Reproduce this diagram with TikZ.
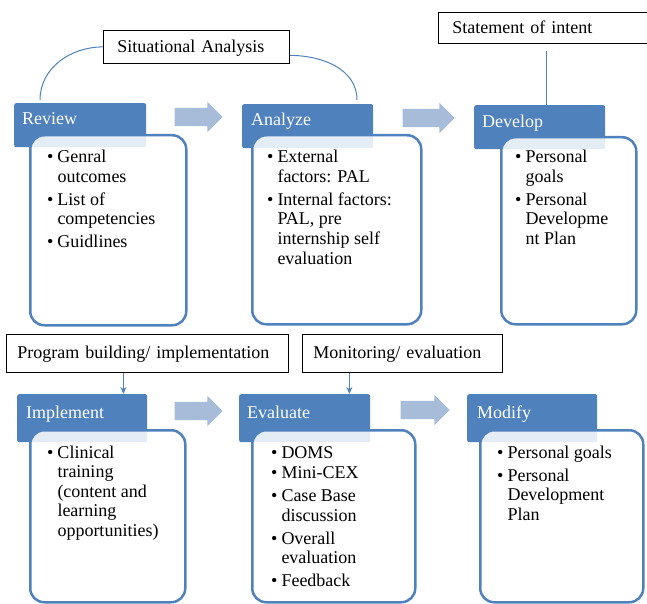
\documentclass[tikz,border=0pt]{standalone}
\usepackage{fontspec}
\setmainfont{Liberation Serif}
\usepackage{tikz}
\usetikzlibrary{shapes.arrows, arrows.meta}
\definecolor{hdrblue}{RGB}{79,129,189}
\definecolor{arrowblue}{RGB}{167,188,217}
\newcommand{\pts}[1]{\begin{tabular}[t]{@{}l@{\hspace{4pt}}l@{}}#1\end{tabular}}
\tikzset{
    x=1pt, y=1pt, % one unit is one pixel of the drawing
    >={Stealth[length=7pt, width=6pt]}, % small pointed arrow heads
    every node/.style={font=\fontsize{18}{19.5}\selectfont}, % all text in one size
    head/.style={rectangle, rounded corners=2pt, fill=hdrblue, inner sep=0, anchor=north west}, % blue title tab
    headtext/.style={text=white, anchor=base west, inner sep=0}, % title of a tab
    body/.style={rectangle, rounded corners=14pt, draw=hdrblue, line width=2.5pt, fill=white, fill opacity=0.85, anchor=north west, inner sep=0}, % card under the tab
    items/.style={anchor=base west, inner sep=0}, % bullet list in a card
    phase/.style={rectangle, draw=black, line width=0.8pt, fill=white, anchor=north west, inner ysep=0, align=left, text height=13pt, text depth=2pt}, % boxed phase name
    conn/.style={draw=hdrblue, line width=1pt}, % thin blue connector
    fatarrow/.style={single arrow, fill=arrowblue, inner sep=9pt, single arrow head extend=6pt, outer sep=0}, % flow arrow between cards
}
\begin{document}
\begin{tikzpicture}
\useasboundingbox (0,0) rectangle (647,-604);
% tabs
\node[head, minimum width=132, minimum height=44] (h1) at (14,-103) {};
\node[head, minimum width=131, minimum height=44] (h2) at (242,-104) {};
\node[head, minimum width=131, minimum height=44] (h3) at (474,-105) {};
\node[head, minimum width=130, minimum height=48] (h4) at (17,-394) {};
\node[head, minimum width=131, minimum height=48] (h5) at (239,-394) {};
\node[head, minimum width=130, minimum height=48] (h6) at (467,-394) {};
% cards
\node[body, minimum width=156, minimum height=190] (b1) at (29,-134) {};
\node[body, minimum width=169, minimum height=189] (b2) at (251,-134) {};
\node[body, minimum width=135, minimum height=187] (b3) at (500,-136) {};
\node[body, minimum width=155, minimum height=172] (b4) at (29,-429) {};
\node[body, minimum width=163, minimum height=172] (b5) at (251,-429) {};
\node[body, minimum width=163, minimum height=172] (b6) at (479,-429) {};
% tab titles
\node[headtext] (r1) at ([shift={(8,-22)}]h1.north west) {Review};
\node[headtext] (r2) at ([shift={(9,-22)}]h2.north west) {Analyze};
\node[headtext] (r3) at ([shift={(8,-23)}]h3.north west) {Develop};
\node[headtext] (r4) at ([shift={(9,-24)}]h4.north west) {Implement};
\node[headtext] (r5) at ([shift={(8,-24)}]h5.north west) {Evaluate};
\node[headtext] (r6) at ([shift={(10,-24)}]h6.north west) {Modify};
% lists
\node[items] (t1) at (47,-163) {\pts{\textbullet & Genral\\ & outcomes\\[3.5pt] \textbullet & List of\\ & competencies\\[3.5pt] \textbullet & Guidlines}};
\node[items] (t2) at (267,-163) {\pts{\textbullet & External\\ & factors: PAL\\[3.5pt] \textbullet & Internal factors:\\ & PAL, pre\\ & internship self\\ & evaluation}};
\node[items] (t3) at (515,-163) {\pts{\textbullet & Personal\\ & goals\\[3.5pt] \textbullet & Personal\\ & Developme\\ & nt Plan}};
\node[items] (t4) at (47,-458) {\pts{\textbullet & Clinical\\ & training\\ & (content and\\ & learning\\ & opportunities)}};
\node[items] (t5) at (271,-458) {\pts{\textbullet & DOMS\\[1pt] \textbullet & Mini-CEX\\[3.5pt] \textbullet & Case Base\\ & discussion\\[3.5pt] \textbullet & Overall\\ & evaluation\\[3.5pt] \textbullet & Feedback}};
\node[items] (t6) at (497,-458) {\pts{\textbullet & Personal goals\\[3.5pt] \textbullet & Personal\\ & Development\\ & Plan}};
% phase boxes
\node[phase, inner xsep=14, text width=158, minimum height=33] (l1) at (103,-30) {Situational Analysis};
\node[phase, inner xsep=14, text width=189, minimum height=31] (l2) at (438,-12) {Statement of intent};
\node[phase, inner xsep=11, text width=260, minimum height=38] (l3) at (6,-334) {Program building/ implementation};
\node[phase, inner xsep=11, text width=178, minimum height=38] (l4) at (302,-334) {Monitoring/ evaluation};
% flow arrows
\node[fatarrow, minimum height=48] (a1) at (194,-117) {};
\node[fatarrow, minimum height=52] (a2) at (424,-118) {};
\node[fatarrow, minimum height=48] (a3) at (194,-411) {};
\node[fatarrow, minimum height=49] (a4) at (420.5,-410) {};
% connectors
\draw[conn] ([shift={(26,3)}]h1.north west) to[out=90, in=180] (l1.west);
\draw[conn] ([yshift=-8.5]l1.east) to[out=0, in=90] ([shift={(115,4)}]h2.north west);
\draw[conn, shorten <=7pt] (l2.south) -- (l2.south |- h3.north);
\draw[conn, ->] ([xshift=-24]l3.south) -- ([xshift=-24]l3.south |- h4.north);
\draw[conn, ->] ([xshift=-53]l4.south) -- ([xshift=-53]l4.south |- h5.north);
\end{tikzpicture}
\end{document}
